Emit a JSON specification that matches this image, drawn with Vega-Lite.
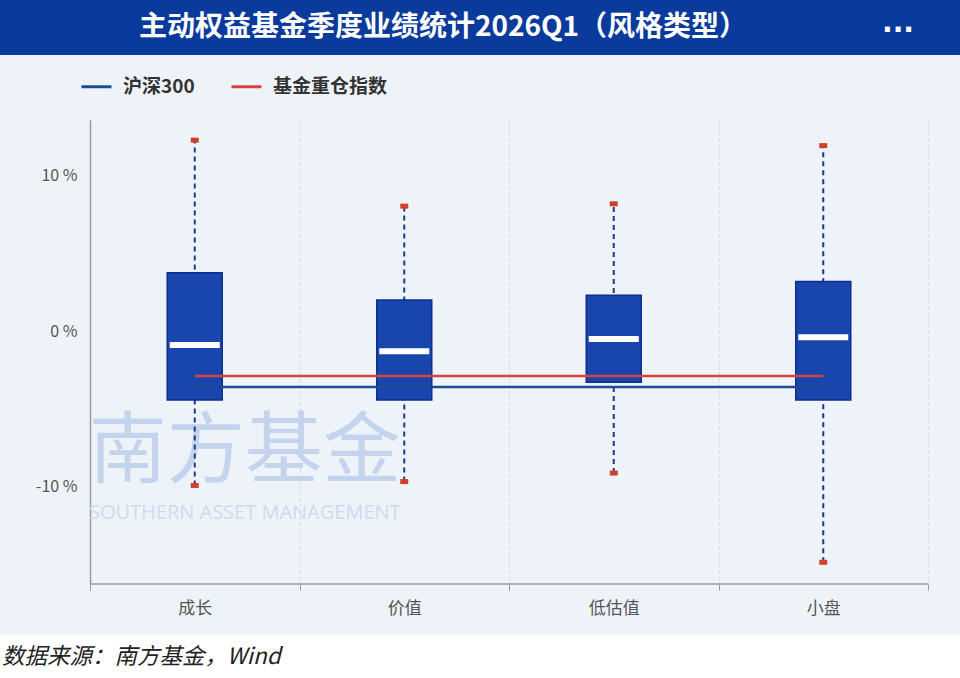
{
  "$schema": "https://vega.github.io/schema/vega-lite/v6.json",
  "background": "#eef3fa",
  "padding": 0,
  "spacing": 0,
  "config": {
    "font": "Noto Sans CJK SC",
    "view": {"stroke": null},
    "concat": {"spacing": 0}
  },
  "resolve": {"scale": {"color": "independent"}, "legend": {"color": "independent"}},
  "datasets": {
    "boxes": [
      {"cat": "成长", "min": -9.95, "q1": -4.45, "median": -0.9, "q3": 3.75, "max": 12.3},
      {"cat": "价值", "min": -9.7, "q1": -4.45, "median": -1.3, "q3": 2.0, "max": 8.05},
      {"cat": "低估值", "min": -9.15, "q1": -3.3, "median": -0.52, "q3": 2.3, "max": 8.2},
      {"cat": "小盘", "min": -14.9, "q1": -4.45, "median": -0.4, "q3": 3.2, "max": 11.95}
    ],
    "lines": [
      {"cat": "成长", "series": "沪深300", "value": -3.6},
      {"cat": "价值", "series": "沪深300", "value": -3.6},
      {"cat": "低估值", "series": "沪深300", "value": -3.6},
      {"cat": "小盘", "series": "沪深300", "value": -3.6},
      {"cat": "成长", "series": "基金重仓指数", "value": -2.9},
      {"cat": "价值", "series": "基金重仓指数", "value": -2.9},
      {"cat": "低估值", "series": "基金重仓指数", "value": -2.9},
      {"cat": "小盘", "series": "基金重仓指数", "value": -2.9}
    ],
    "title": [{"t": "主动权益基金季度业绩统计2026Q1（风格类型）"}],
    "footer": [{"t": "数据来源：南方基金，Wind"}],
    "wm": [{"cn": "南方基金", "en": "SOUTHERN ASSET MANAGEMENT"}],
    "base": [{"lo": -16.3}]
  },
  "vconcat": [
    {
      "width": 960,
      "height": 55,
      "view": {"fill": "#0a3a9c", "stroke": null},
      "data": {"name": "title"},
      "layer": [
        {
          "mark": {"type": "text", "color": "#ffffff", "fontSize": 28, "fontWeight": "bold", "dx": -37, "baseline": "middle"},
          "encoding": {"text": {"field": "t"}}
        },
        {
          "mark": {"type": "text", "color": "#ffffff", "fontSize": 28, "fontWeight": "bold", "font": "DejaVu Sans", "dx": 418, "dy": 3, "baseline": "middle"},
          "encoding": {"text": {"value": "···"}}
        }
      ]
    },
    {
      "width": 928,
      "height": 464,
      "encoding": {
        "x": {
          "field": "cat",
          "type": "nominal",
          "sort": ["成长", "价值", "低估值", "小盘"],
          "scale": {
            "domain": ["成长", "价值", "低估值", "小盘"],
            "paddingInner": 0,
            "paddingOuter": 0.2148,
            "align": 1,
            "round": false
          },
          "axis": {
            "title": null,
            "labelAngle": 0,
            "labelFontSize": 17,
            "labelColor": "#555555",
            "labelPadding": 10,
            "tickBand": "extent",
            "tickSize": 6,
            "tickColor": "#9a9a9a",
            "domain": false,
            "grid": true,
            "gridColor": "#d3d8e0",
            "gridDash": [3, 3],
            "gridWidth": 1,
            "minExtent": 51
          }
        }
      },
      "layer": [
        {
          "data": {"name": "wm"},
          "mark": {"type": "text", "fontSize": 78, "color": "#c4d4ec", "dx": 50, "baseline": "middle"},
          "encoding": {
            "x": {"datum": "成长", "type": "nominal"},
            "y": {"datum": -7.9, "type": "quantitative"},
            "text": {"field": "cn"}
          }
        },
        {
          "data": {"name": "wm"},
          "mark": {"type": "text", "fontSize": 20, "color": "#cfdbee", "dx": 50, "baseline": "middle", "font": "Open Sans"},
          "encoding": {
            "x": {"datum": "成长", "type": "nominal"},
            "y": {"datum": -11.75, "type": "quantitative"},
            "text": {"field": "en"}
          }
        },
        {
          "data": {"name": "base"},
          "mark": {"type": "rule", "color": "#9a9a9a", "strokeWidth": 1.5},
          "encoding": {
            "x": {"datum": "成长", "type": "nominal", "bandPosition": 0},
            "x2": {"datum": "小盘", "bandPosition": 1},
            "y": {"field": "lo", "type": "quantitative"}
          }
        },
        {
          "data": {"name": "boxes"},
          "mark": {"type": "rule", "color": "#1d3b84", "strokeWidth": 2, "strokeDash": [5, 4]},
          "encoding": {
            "y": {
              "field": "min",
              "type": "quantitative",
              "scale": {"domain": [-16.3, 13.6], "nice": false, "zero": false},
              "axis": {
                "title": null,
                "offset": -90,
                "values": [-10, 0, 10],
                "labelExpr": "datum.value + ' %'",
                "labelFontSize": 16,
                "labelColor": "#555555",
                "labelPadding": 13,
                "ticks": false,
                "grid": false,
                "domainColor": "#9a9a9a",
                "domainWidth": 1.5
              }
            },
            "y2": {"field": "max"}
          }
        },
        {
          "data": {"name": "boxes"},
          "mark": {"type": "bar", "size": 55, "fill": "#1846ad", "stroke": "#0d2f8c", "strokeWidth": 1.5},
          "encoding": {
            "y": {"field": "q1", "type": "quantitative"},
            "y2": {"field": "q3"}
          }
        },
        {
          "data": {"name": "boxes"},
          "mark": {"type": "tick", "size": 50, "thickness": 6, "color": "#ffffff", "opacity": 1},
          "encoding": {
            "y": {"field": "median", "type": "quantitative"}
          }
        },
        {
          "data": {"name": "boxes"},
          "mark": {"type": "tick", "size": 8, "thickness": 5, "color": "#d0402b", "opacity": 1},
          "encoding": {
            "y": {"field": "max", "type": "quantitative"}
          }
        },
        {
          "data": {"name": "boxes"},
          "mark": {"type": "tick", "size": 8, "thickness": 5, "color": "#d0402b", "opacity": 1},
          "encoding": {
            "y": {"field": "min", "type": "quantitative"}
          }
        },
        {
          "data": {"name": "lines"},
          "mark": {"type": "line", "strokeWidth": 2.5},
          "encoding": {
            "y": {"field": "value", "type": "quantitative"},
            "color": {
              "field": "series",
              "type": "nominal",
              "scale": {"domain": ["沪深300", "基金重仓指数"], "range": ["#1f4a94", "#d9403f"]},
              "legend": {
                "title": null,
                "orient": "none",
                "direction": "horizontal",
                "legendX": 65,
                "legendY": -65,
                "padding": 15,
                "symbolType": "stroke",
                "symbolSize": 900,
                "symbolStrokeWidth": 3,
                "labelFontSize": 19,
                "labelFontWeight": "bold",
                "labelColor": "#333333",
                "labelOffset": 10,
                "columnPadding": 30
              }
            }
          }
        }
      ]
    },
    {
      "width": 960,
      "height": 43,
      "view": {"fill": "#ffffff", "stroke": null},
      "data": {"name": "footer"},
      "mark": {"type": "text", "fontSize": 22.5, "fontStyle": "italic", "color": "#222222", "align": "left", "dx": -478, "baseline": "middle"},
      "encoding": {"text": {"field": "t"}}
    }
  ]
}
